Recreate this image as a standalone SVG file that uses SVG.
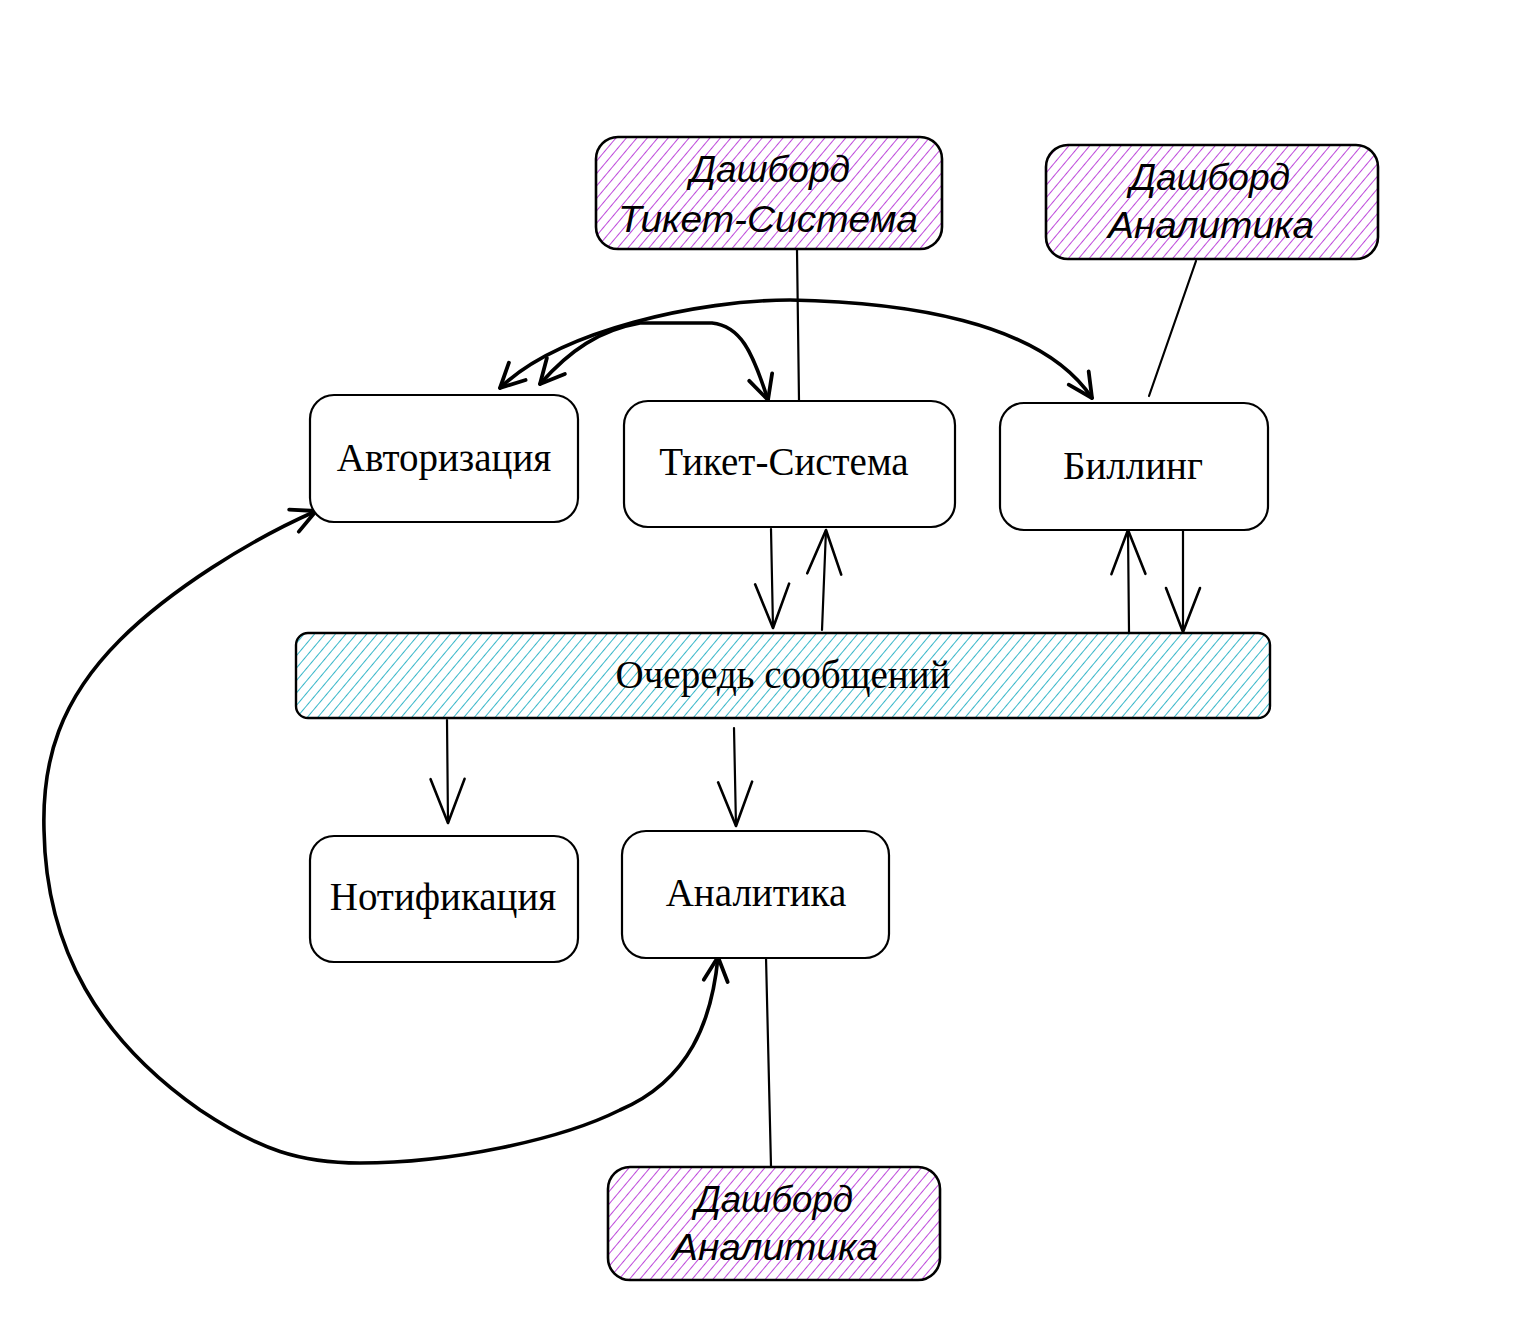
<svg xmlns="http://www.w3.org/2000/svg" width="1524" height="1320" viewBox="0 0 1524 1320">
<defs>
<pattern id="hPurple" patternUnits="userSpaceOnUse" width="8" height="8" patternTransform="rotate(40)">
<line x1="0" y1="0" x2="0" y2="8" stroke="#be4bdb" stroke-width="2"/>
</pattern>
<pattern id="hCyan" patternUnits="userSpaceOnUse" width="8" height="8" patternTransform="rotate(40)">
<line x1="0" y1="0" x2="0" y2="8" stroke="#15aabf" stroke-width="1.7"/>
</pattern>
<marker id="ah" viewBox="0 0 48 40" refX="46" refY="20" markerWidth="48" markerHeight="40" markerUnits="userSpaceOnUse" orient="auto-start-reverse">
<path d="M2 3 L46 20 L2 37" fill="none" stroke="#000" stroke-width="2.6" stroke-linecap="round" stroke-linejoin="round"/>
</marker>
<marker id="ahb" viewBox="0 0 30 30" refX="27" refY="15" markerWidth="30" markerHeight="30" markerUnits="userSpaceOnUse" orient="auto-start-reverse">
<path d="M3 3 L27 15 L3 27" fill="none" stroke="#000" stroke-width="3.8" stroke-linecap="round" stroke-linejoin="round"/>
</marker>
</defs>
<style>
.box{fill:#fff;stroke:#000;stroke-width:2.2}
.dash{fill:url(#hPurple);stroke:#000;stroke-width:2.6}
.queue{fill:url(#hCyan);stroke:#000;stroke-width:2.4}
.lbl{font-family:"Liberation Serif","Times New Roman",serif;font-size:39px;fill:#000;text-anchor:middle}
.hand{font-family:"Liberation Sans",Arial,sans-serif;font-size:36px;fill:#000;text-anchor:middle;font-style:italic}
.thin{fill:none;stroke:#000;stroke-width:2.2;stroke-linecap:round}
.thick{fill:none;stroke:#000;stroke-width:3.6;stroke-linecap:round}
</style>
<rect width="1524" height="1320" fill="#fff"/>
<g id="connectors">
<line class="thin" x1="797" y1="250" x2="799" y2="400"/>
<line class="thin" x1="1196" y1="261" x2="1149" y2="396"/>
<line class="thin" x1="766" y1="957" x2="771" y2="1166"/>
<line class="thin" x1="771" y1="529" x2="773" y2="628" marker-end="url(#ah)"/>
<line class="thin" x1="822" y1="630" x2="826" y2="530" marker-end="url(#ah)"/>
<line class="thin" x1="1129" y1="632" x2="1128" y2="530" marker-end="url(#ah)"/>
<line class="thin" x1="1183" y1="530" x2="1183" y2="632" marker-end="url(#ah)"/>
<line class="thin" x1="447" y1="720" x2="448" y2="823" marker-end="url(#ah)"/>
<line class="thin" x1="734" y1="728" x2="736" y2="826" marker-end="url(#ah)"/>
<path class="thick" d="M540 384 C570 350 600 330 640 323 L712 323 C740 326 752 350 768 400" marker-start="url(#ahb)" marker-end="url(#ahb)"/>
<path class="thick" d="M500 388 C560 330 700 300 790 300 C900 302 1040 320 1092 398" marker-start="url(#ahb)" marker-end="url(#ahb)"/>
<path class="thick" d="M316 511 C250 540 170 590 120 640 C60 700 42 760 44 830 C46 950 100 1040 200 1110 C260 1150 300 1163 360 1163 C450 1163 560 1140 620 1110 C690 1080 712 1020 718 957" marker-start="url(#ahb)" marker-end="url(#ahb)"/>
</g>
<g id="dash-ticket">
<rect class="dash" x="596" y="137" width="346" height="112" rx="22"/>
<text class="hand" x="770" y="182" textLength="160" lengthAdjust="spacingAndGlyphs">Дашборд</text>
<text class="hand" x="768" y="232" textLength="300" lengthAdjust="spacingAndGlyphs">Тикет-Система</text>
</g>
<g id="dash-analytics-top">
<rect class="dash" x="1046" y="145" width="332" height="114" rx="22"/>
<text class="hand" x="1210" y="190" textLength="160" lengthAdjust="spacingAndGlyphs">Дашборд</text>
<text class="hand" x="1211" y="238" textLength="206" lengthAdjust="spacingAndGlyphs">Аналитика</text>
</g>
<g id="auth">
<rect class="box" x="310" y="395" width="268" height="127" rx="24"/>
<text class="lbl" x="444" y="471">Авторизация</text>
</g>
<g id="ticket">
<rect class="box" x="624" y="401" width="331" height="126" rx="24"/>
<text class="lbl" x="784" y="475">Тикет-Система</text>
</g>
<g id="billing">
<rect class="box" x="1000" y="403" width="268" height="127" rx="24"/>
<text class="lbl" x="1133" y="479">Биллинг</text>
</g>
<g id="queue">
<rect class="queue" x="296" y="633" width="974" height="85" rx="12"/>
<text class="lbl" x="783" y="688">Очередь сообщений</text>
</g>
<g id="notify">
<rect class="box" x="310" y="836" width="268" height="126" rx="24"/>
<text class="lbl" x="443" y="910">Нотификация</text>
</g>
<g id="analytics">
<rect class="box" x="622" y="831" width="267" height="127" rx="24"/>
<text class="lbl" x="756" y="906">Аналитика</text>
</g>
<g id="dash-analytics-bottom">
<rect class="dash" x="608" y="1167" width="332" height="113" rx="22"/>
<text class="hand" x="774" y="1212" textLength="158" lengthAdjust="spacingAndGlyphs">Дашборд</text>
<text class="hand" x="775" y="1260" textLength="206" lengthAdjust="spacingAndGlyphs">Аналитика</text>
</g>
</svg>
